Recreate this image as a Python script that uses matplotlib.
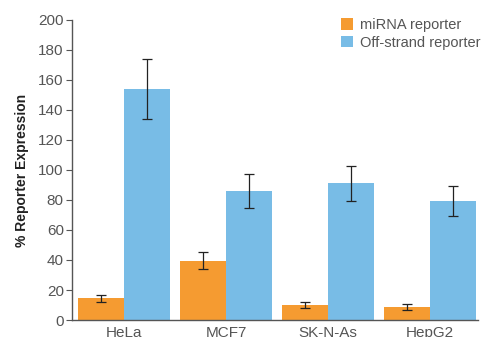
import numpy as np
import matplotlib.pyplot as plt

plt.rcParams['font.family'] = ['Liberation Sans', 'DejaVu Sans']

# data
cells = ["HeLa", "MCF7", "SK-N-As", "HepG2"]
mirna = [14.5, 39.5, 10, 8.5]
mirna_err = [2.5, 5.5, 1.7, 2]
offstrand = [154, 86, 91, 79]
offstrand_err = [20, 11.5, 11.5, 10]

orange = "#F59B31"
blue = "#78BCE6"
grey = "#555555"

fig = plt.figure(figsize=(4.84, 3.37), dpi=100)
ax = fig.add_axes([0.149, 0.0504, 0.839, 0.8906])

x = np.arange(len(cells))
w = 0.45
errkw = dict(ecolor="#222222", elinewidth=0.9, capsize=3.7, capthick=0.9)
ax.bar(x - w/2, mirna, w, yerr=mirna_err, color=orange, label="miRNA reporter", error_kw=errkw)
ax.bar(x + w/2, offstrand, w, yerr=offstrand_err, color=blue, label="Off-strand reporter", error_kw=errkw)

ax.set_xlim(-0.51, 3.47)
ax.set_ylim(0, 200)
ax.set_yticks(range(0, 201, 20))
ax.set_xticks(x)
ax.set_xticklabels(cells)
ax.tick_params(axis="x", length=0, pad=4, labelsize=11, labelcolor=grey)
ax.tick_params(axis="y", length=4, width=0.8, color=grey, labelsize=11, labelcolor=grey, pad=2)
for s in ["top", "right"]:
    ax.spines[s].set_visible(False)
for s in ["left", "bottom"]:
    ax.spines[s].set_color(grey)
    ax.spines[s].set_linewidth(1)

ax.set_ylabel("% Reporter Expression", fontsize=10, fontweight="bold", color="#222222", labelpad=7)

leg = ax.legend(loc="upper left", bbox_to_anchor=(0.636, 1.04), frameon=False, fontsize=10.5,
                handlelength=0.85, handleheight=0.85, handletextpad=0.45, labelspacing=0.25, borderpad=0.2)
for t in leg.get_texts():
    t.set_color(grey)

fig.savefig("out.png", dpi=100)
